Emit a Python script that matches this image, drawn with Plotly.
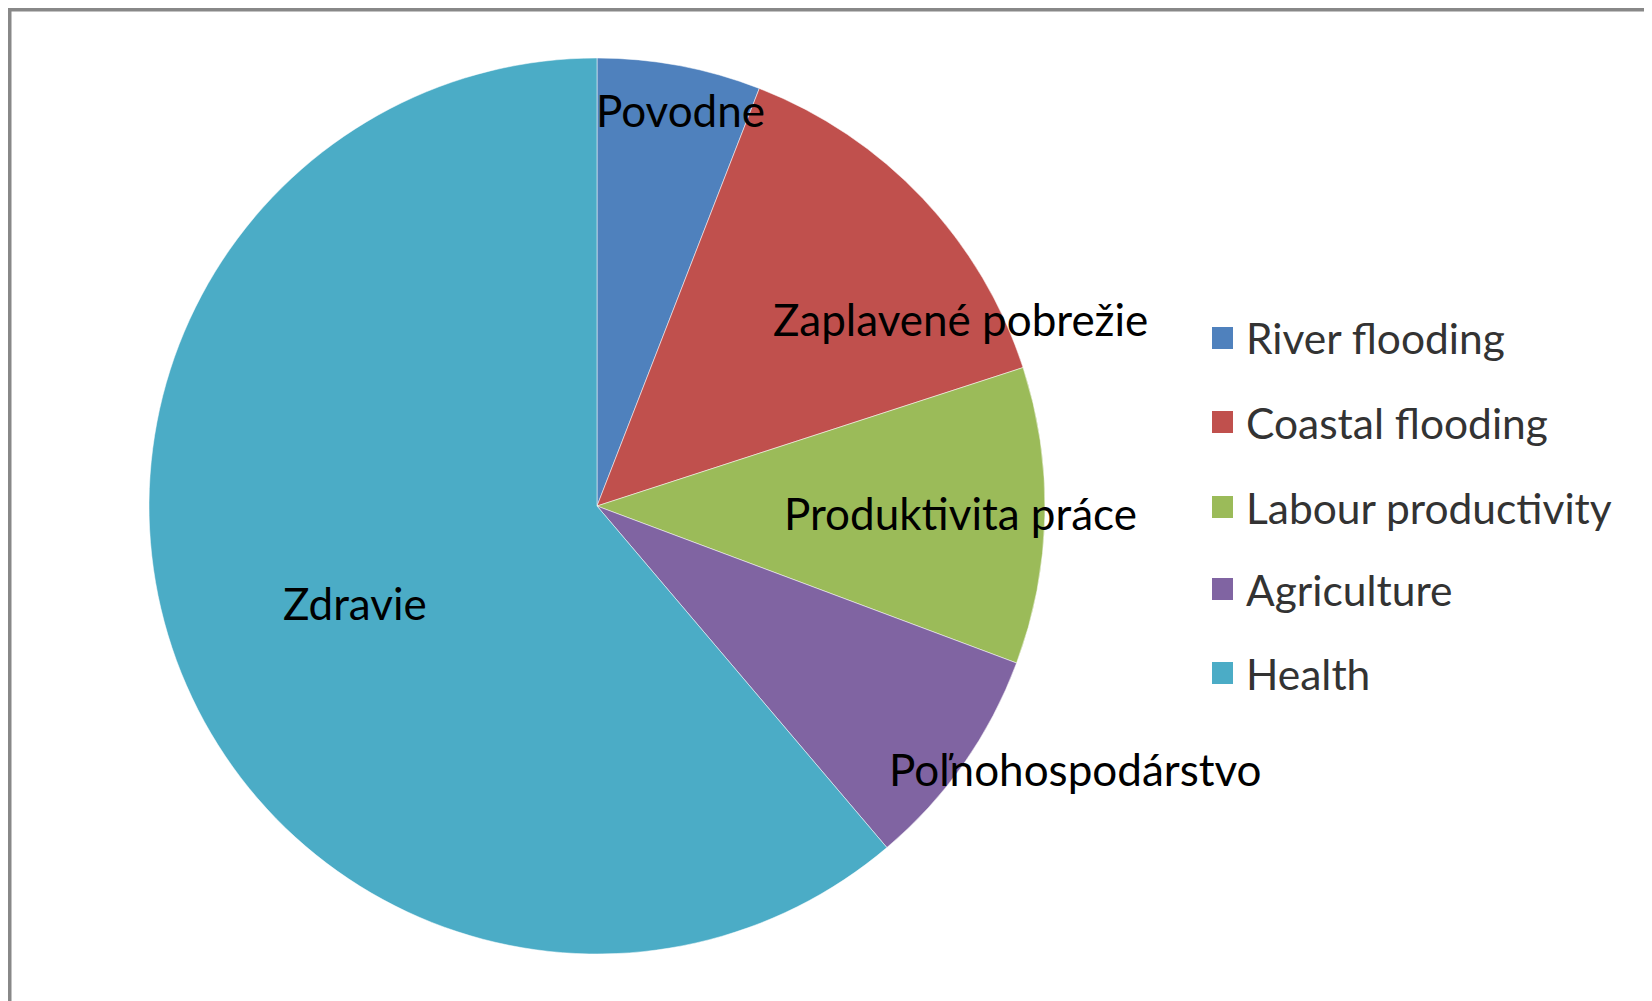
import plotly.graph_objects as go

labels = ["River flooding", "Coastal flooding", "Labour productivity", "Agriculture", "Health"]
values = [5.9, 14.1, 10.7, 8.1, 61.2]
slice_labels = ["Povodne", "Zaplavené pobrežie", "Produktivita práce", "Poľnohospodárstvo", "Zdravie"]
colors = ["#4F81BD", "#C0504D", "#9BBB59", "#8064A2", "#4BACC6"]

W, H = 1652, 1001
OFF = 8  # page body margin offset

fig = go.Figure()
fig.add_trace(go.Pie(
    labels=labels, values=values, sort=False, direction="clockwise", rotation=0,
    marker=dict(colors=colors, line=dict(color="rgba(255,255,255,0.5)", width=1)),
    textinfo="none", hoverinfo="label+percent", showlegend=False,
    domain=dict(x=[(149 - OFF) / W, (1045 - OFF) / W],
                y=[(H - 954 + OFF) / H, (H - 58 + OFF) / H]),
))

# data label positions (page px)
label_pos = [(680, 110), (960, 319), (960, 513), (1075, 769), (355, 603)]
for txt, (px, py) in zip(slice_labels, label_pos):
    fig.add_annotation(x=(px - OFF) / W, y=1 - (py - OFF) / H, xref="paper", yref="paper", text=txt,
                       showarrow=False, xanchor="center", yanchor="middle",
                       font=dict(family="Lato", size=44, color="#000000"))

# legend
leg_y = [338, 422, 507, 589, 673]
for lab, col, ly in zip(labels, colors, leg_y):
    fig.add_shape(type="rect", xref="paper", yref="paper",
                  x0=(1212 - OFF) / W, x1=(1233 - OFF) / W,
                  y0=1 - (ly - 11 - OFF) / H, y1=1 - (ly + 11 - OFF) / H,
                  fillcolor=col, line=dict(width=0))
    fig.add_annotation(x=(1244 - OFF) / W, y=1 - (ly - OFF) / H, xref="paper", yref="paper", text=lab,
                       showarrow=False, xanchor="left", yanchor="middle",
                       font=dict(family="Lato", size=42.5, color="#333333"))

# frame border (top and left)
fig.add_shape(type="line", xref="paper", yref="paper", x0=0, x1=1, y0=1, y1=1,
              line=dict(color="#888888", width=7))
fig.add_shape(type="line", xref="paper", yref="paper", x0=0, x1=0, y0=1, y1=0,
              line=dict(color="#888888", width=7))

fig.update_layout(width=W, height=H, margin=dict(l=0, r=0, t=0, b=0),
                  paper_bgcolor="white", plot_bgcolor="white")
fig.write_html("out.html")
